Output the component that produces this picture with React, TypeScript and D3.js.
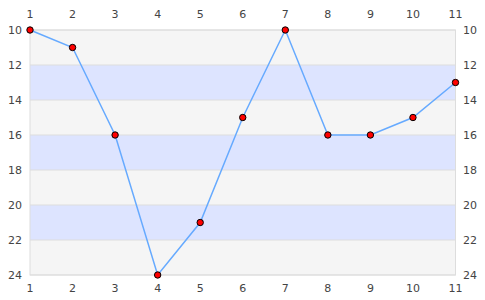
import React from "react";
import * as d3 from "d3";

const xValues = [1, 2, 3, 4, 5, 6, 7, 8, 9, 10, 11];
const yValues = [10, 11, 16, 24, 21, 15, 10, 16, 16, 15, 13];
const yTicks = [10, 12, 14, 16, 18, 20, 22, 24];

const W = 485;
const H = 300;
const M = { left: 30, right: 30, top: 30, bottom: 25 };

export default function App() {
  const x = d3.scaleLinear().domain([1, 11]).range([M.left, W - M.right + 0.5]);
  const y = d3.scaleLinear().domain([10, 24]).range([M.top, H - M.bottom]);
  const line = d3
    .line<number>()
    .x((_, i) => x(xValues[i]))
    .y((d) => y(d));
  const bands = yTicks.slice(0, -1).map((t, i) => ({ y0: t, y1: yTicks[i + 1], i }));
  const font = "DejaVu Sans, Verdana, sans-serif";
  const textColor = "#444";
  return (
    <svg width={W} height={H} style={{ position: "absolute", left: 0, top: 0, background: "#fff" }}>
      {bands.map((b) => (
        <rect
          key={b.i}
          x={x(1)}
          y={y(b.y0)}
          width={x(11) - x(1)}
          height={y(b.y1) - y(b.y0)}
          fill={b.i % 2 === 0 ? "#f5f5f5" : "#dde4ff"}
        />
      ))}
      {yTicks.map((t) => (
        <line key={t} x1={x(1)} x2={x(11)} y1={y(t)} y2={y(t)} stroke="#dddddd" strokeWidth={1} />
      ))}
      <rect x={x(1)} y={y(10)} width={x(11) - x(1)} height={y(24) - y(10)} fill="none" stroke="#dddddd" />
      <path d={line(yValues) || ""} fill="none" stroke="#66aaff" strokeWidth={1.5} />
      {yValues.map((v, i) => (
        <circle key={i} cx={x(xValues[i])} cy={y(v)} r={3.2} fill="#ff0000" stroke="#000" strokeWidth={1} />
      ))}
      {xValues.map((v) => (
        <g key={v} fontFamily={font} fontSize={11} fill={textColor} textAnchor="middle">
          <text x={x(v)} y={18}>{v}</text>
          <text x={x(v)} y={292}>{v}</text>
        </g>
      ))}
      {yTicks.map((t) => (
        <g key={t} fontFamily={font} fontSize={11} fill={textColor}>
          <text x={22} y={y(t) + 4} textAnchor="end">{t}</text>
          <text x={463} y={y(t) + 4} textAnchor="start">{t}</text>
        </g>
      ))}
    </svg>
  );
}
